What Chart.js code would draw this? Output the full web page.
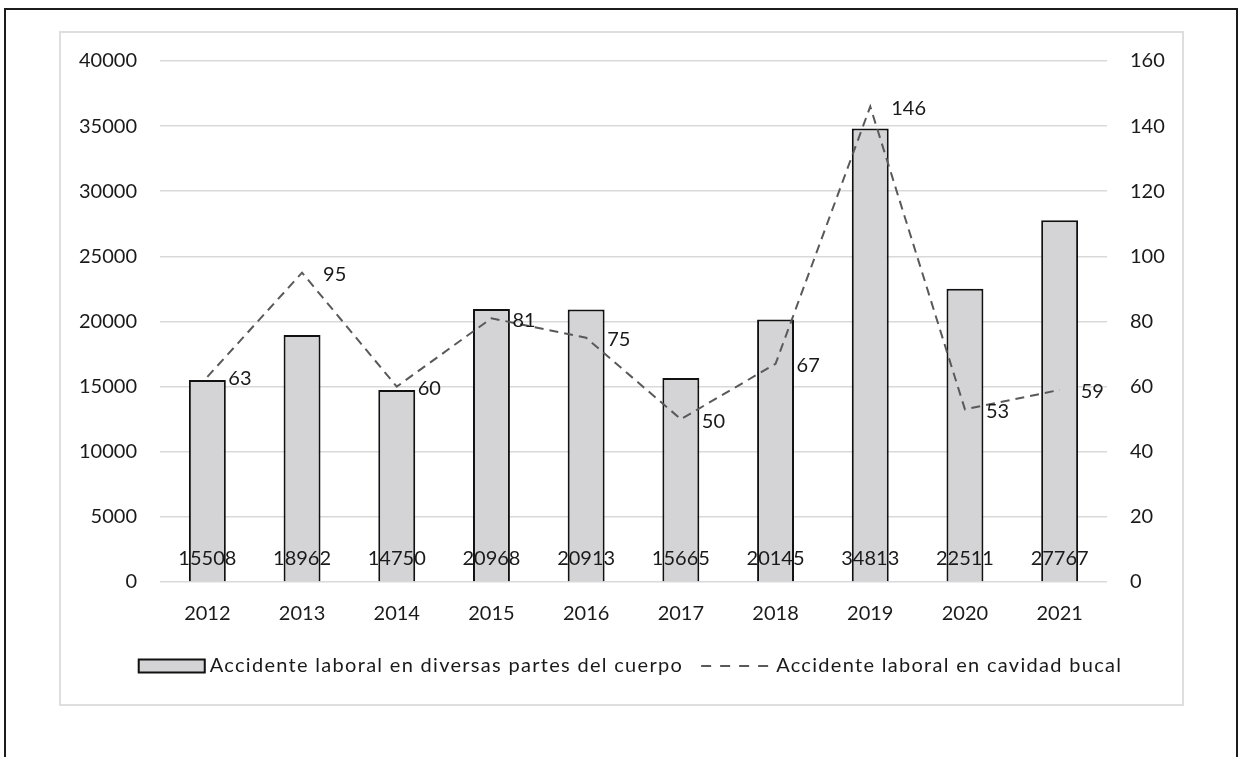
<!DOCTYPE html>
<html>
<head>
<meta charset="utf-8">
<title>Accidentes laborales 2012-2021</title>
<script src="https://cdn.jsdelivr.net/npm/chart.js@4/dist/chart.umd.min.js"></script>
<style>
  html, body { margin: 0; padding: 0; background: #fff; width: 1242px; height: 757px; overflow: hidden; }
  #outer { position: absolute; left: 4px; top: 8px; width: 1234px; height: 820px; border: 2px solid #1c1c1c; box-sizing: border-box; }
  #frame { position: absolute; left: 59px; top: 31px; width: 1125px; height: 675px; border: 2px solid #dedede; box-sizing: border-box; }
  #wrap { position: absolute; left: 61px; top: 33px; width: 1121px; height: 671px; }
</style>
</head>
<body>
<div id="outer"></div>
<div id="frame"></div>
<div id="wrap"><canvas id="chart" width="1121" height="671"></canvas></div>
<script>
// Years on the category axis
const years = ['2012', '2013', '2014', '2015', '2016', '2017', '2018', '2019', '2020', '2021'];
// Work accidents, all body parts (left axis)
const bodyAccidents = [15508, 18962, 14750, 20968, 20913, 15665, 20145, 34813, 22511, 27767];
// Work accidents, oral cavity (right axis)
const oralAccidents = [63, 95, 60, 81, 75, 50, 67, 146, 53, 59];
// Series names
const seriesNames = ['Accidente laboral en diversas partes del cuerpo', 'Accidente laboral en cavidad bucal'];

const FONT = '20px Lato';
const TEXT = '#1a1a1a';
const BAR_FILL = '#d4d3d5';
const LINE_COLOR = '#595959';
const DASH = [9, 6];

// Value labels: bar totals sit on the baseline, line values to the right of each point
const valueLabels = {
  id: 'valueLabels',
  afterDatasetsDraw(chart) {
    const ctx = chart.ctx;
    ctx.save();
    ctx.font = FONT;
    ctx.fillStyle = TEXT;
    ctx.textBaseline = 'middle';
    const y0 = chart.scales.y.getPixelForValue(0);
    ctx.textAlign = 'center';
    chart.getDatasetMeta(0).data.forEach((bar, i) => {
      ctx.fillText(String(chart.data.datasets[0].data[i]), bar.x, y0 - 23);
    });
    ctx.textAlign = 'left';
    chart.getDatasetMeta(1).data.forEach((pt, i) => {
      ctx.fillText(String(chart.data.datasets[1].data[i]), pt.x + 21, pt.y + 2);
    });
    ctx.restore();
  }
};

// Legend row under the axis: filled box for the bars, dashed stroke for the line
const legendRow = {
  id: 'legendRow',
  afterDraw(chart) {
    const ctx = chart.ctx;
    const ds = chart.data.datasets;
    ctx.save();
    ctx.font = FONT;
    ctx.letterSpacing = '1.3px';
    const boxW = 68, boxH = 13, gapText = 4, gapItem = 18, dashLen = 69, gapDash = 6;
    const w1 = ctx.measureText(ds[0].label).width;
    const w2 = ctx.measureText(ds[1].label).width;
    const total = boxW + gapText + w1 + gapItem + dashLen + gapDash + w2;
    const cy = 633;
    let x = 569 - total / 2;
    ctx.fillStyle = ds[0].backgroundColor;
    ctx.fillRect(x, cy - boxH / 2, boxW, boxH);
    ctx.lineWidth = 2;
    ctx.strokeStyle = ds[0].borderColor;
    ctx.strokeRect(x + 1, cy - boxH / 2, boxW - 2, boxH);
    x += boxW + gapText;
    ctx.fillStyle = TEXT;
    ctx.textBaseline = 'middle';
    ctx.textAlign = 'left';
    ctx.fillText(ds[0].label, x, cy);
    x += w1 + gapItem;
    ctx.strokeStyle = ds[1].borderColor;
    ctx.lineWidth = 2;
    ctx.setLineDash([10, 9]);
    ctx.beginPath();
    ctx.moveTo(x, cy);
    ctx.lineTo(x + dashLen, cy);
    ctx.stroke();
    ctx.setLineDash([]);
    x += dashLen + gapDash;
    ctx.fillText(ds[1].label, x, cy);
    ctx.restore();
  }
};

// Vertical axes: fixed width, and no extra top/bottom room for the end labels
function fixVertical(width) {
  return function (scale) {
    scale.width = width;
    scale.paddingTop = 0;
    scale.paddingBottom = 0;
  };
}

Chart.defaults.font.family = 'Lato';
Chart.defaults.font.size = 20;
Chart.defaults.color = TEXT;

new Chart(document.getElementById('chart'), {
  type: 'bar',
  data: {
    labels: years,
    datasets: [
      {
        type: 'bar',
        label: seriesNames[0],
        data: bodyAccidents,
        yAxisID: 'y',
        backgroundColor: BAR_FILL,
        borderColor: '#111111',
        borderWidth: 2,
        categoryPercentage: 1,
        barPercentage: 0.39,
        order: 1
      },
      {
        type: 'line',
        label: seriesNames[1],
        data: oralAccidents,
        yAxisID: 'y1',
        borderColor: LINE_COLOR,
        backgroundColor: LINE_COLOR,
        borderWidth: 2,
        borderDash: DASH,
        pointRadius: 0,
        tension: 0,
        fill: false,
        order: 0
      }
    ]
  },
  options: {
    responsive: false,
    animation: false,
    layout: { padding: { top: 28, left: 0, right: 0, bottom: 0 } },
    plugins: { legend: { display: false }, tooltip: { enabled: false } },
    scales: {
      x: {
        grid: { display: false },
        border: { display: false },
        ticks: { padding: 12, color: TEXT, font: { size: 20 } },
        afterFit(scale) { scale.height = 122; scale.paddingLeft = 0; scale.paddingRight = 0; }
      },
      y: {
        position: 'left',
        min: 0,
        max: 40000,
        ticks: { stepSize: 5000, padding: 23, color: TEXT, font: { size: 20 }, callback: v => String(v) },
        grid: { color: '#d9d9d9', lineWidth: 1.6, drawTicks: false },
        border: { display: false },
        afterFit: fixVertical(99)
      },
      y1: {
        position: 'right',
        min: 0,
        max: 160,
        ticks: { stepSize: 20, padding: 23, color: TEXT, font: { size: 20 }, callback: v => String(v) },
        grid: { drawOnChartArea: false, drawTicks: false },
        border: { display: false },
        afterFit: fixVertical(75)
      }
    }
  },
  plugins: [valueLabels, legendRow]
});
</script>
</body>
</html>
